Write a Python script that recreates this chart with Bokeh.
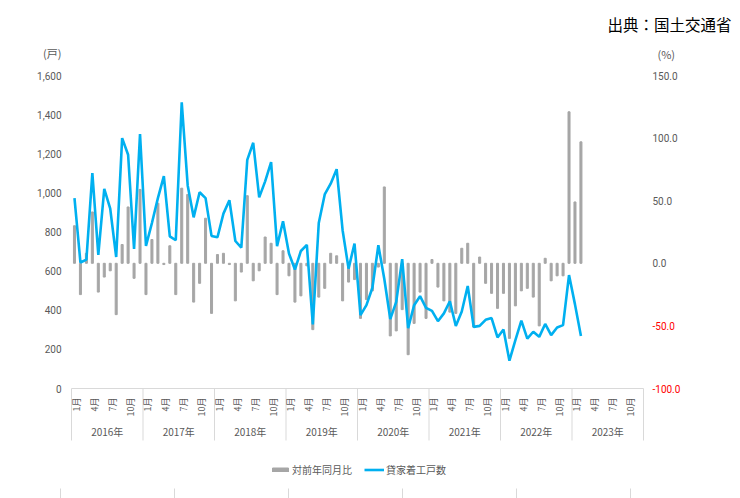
import math

from bokeh.plotting import figure
from bokeh.core.properties import value
from bokeh.models import Range1d, Label, Legend, LegendItem
from bokeh.embed import file_html
from bokeh.resources import INLINE

# data: Jan 2016 - Feb 2023, monthly
years = ["2016年", "2017年", "2018年", "2019年", "2020年", "2021年", "2022年", "2023年"]
month_labels = ["1月", "4月", "7月", "10月"]

# 貸家着工戸数 (戸)
units = [973, 644, 659, 1101, 683, 1021, 919, 672, 1280, 1195, 713, 1300,
         729, 846, 973, 1086, 778, 758, 1463, 1038, 875, 1003, 973, 780,
         773, 894, 962, 754, 720, 1169, 1256, 977, 1059, 1157, 727, 855,
         690, 608, 703, 734, 328, 846, 992, 1047, 1121, 809, 613, 741,
         375, 426, 515, 732, 560, 355, 443, 661, 308, 426, 472, 412,
         397, 344, 384, 446, 320, 394, 524, 315, 320, 351, 360, 261,
         302, 142, 247, 347, 255, 290, 264, 330, 273, 312, 324, 580,
         430, 268]

# 対前年同月比 (%)
yoy = [30, -25, 8, 41, -23, -11, -6, -41, 15, 45, -12, 59,
       -25, 19, 48, -1, 14, -25, 60, 55, -31, -16, 36, -40,
       7, 8, -1, -30, -7, 54, -14, -6, 21, 16, -25, 10,
       -10, -31, -26, -2, -53, -27, -20, 8, 6, -30, -15, -13,
       -44, -29, -22, -3, 61, -58, -54, -37, -73, -48, -23, -44,
       3, -19, -30, -39, -40, 12, 16, -51, 5, -16, -24, -36,
       -24, -60, -34, -22, -20, -27, -50, 4, -14, -10, -10, 121,
       49, 97]

left_ticks = [0, 200, 400, 600, 800, 1000, 1200, 1400, 1600]
right_ticks = [-100, -50, 0, 50, 100, 150]

GRAY_TXT = "#595959"
FONT = "Noto Sans CJK JP"
NUM_FONT = "Roboto"

# layout of the chart area in page pixels
W, H = 740, 498
X0, X1 = 71, 643      # left/right edge of the month band
YT, YB = 75, 388      # top (1600 / 150%) and bottom (0 / -100%) of the value area

n_months = 12 * len(years)
ppm = (X1 - X0) / n_months
upl = 1600 / (YB - YT)
upr = 250 / (YB - YT)


def px_x(px):
    return -0.5 + (px - X0) / ppm


def px_y(py):
    return (YB - py) * upl


p = figure(width=W, height=H, output_backend="svg", toolbar_location=None,
           x_range=Range1d(px_x(0), px_x(W)),
           y_range=Range1d(px_y(H), px_y(0)),
           x_axis_location=None, y_axis_location=None, min_border=0)
p.outline_line_color = None
p.xgrid.visible = False
p.ygrid.visible = False
p.extra_y_ranges = {"pct": Range1d(-100 - (H - YB) * upr, 150 + YT * upr)}

x = list(range(len(units)))

# category band: base line and year separators
p.segment(x0=[-0.5], y0=[0], x1=[n_months - 0.5], y1=[0], line_color="#d9d9d9", line_width=1)
seps = [12 * i - 0.5 for i in range(len(years) + 1)]
p.segment(x0=seps, y0=[0] * len(seps), x1=seps, y1=[px_y(440)] * len(seps),
          line_color="#d9d9d9", line_width=1)

# cut-off table rules at the bottom edge
rules = [px_x(v) for v in (60, 174, 288, 402, 516, 630)]
p.segment(x0=rules, y0=[px_y(488)] * len(rules), x1=rules, y1=[px_y(H)] * len(rules),
          line_color="#d9d9d9", line_width=1)

bars = p.vbar(x=x, top=yoy, bottom=0, width=0.34, color="#a6a6a6", y_range_name="pct")
line = p.line(x, units, color="#00b0f0", line_width=2.6)

# left tick labels (戸)
p.text(x=[px_x(61)] * len(left_ticks), y=left_ticks, text=[f"{t:,}" for t in left_ticks],
       text_font=value(NUM_FONT), text_font_size="10px", text_color=GRAY_TXT,
       text_align="right", text_baseline="middle")

# right tick labels (%), negatives in red
p.text(x=[px_x(652)] * len(right_ticks), y=right_ticks, text=[f"{t:.1f}" for t in right_ticks],
       text_font=value(NUM_FONT), text_font_size="10px",
       text_color=["#ff0000" if t < 0 else GRAY_TXT for t in right_ticks],
       text_align="left", text_baseline="middle", y_range_name="pct")

# month labels (rotated) and year labels
month_ticks = [m for m in range(n_months) if m % 3 == 0]
p.text(x=month_ticks, y=[px_y(397)] * len(month_ticks),
       text=[month_labels[(m % 12) // 3] for m in month_ticks], angle=math.pi / 2,
       x_offset=2, text_font=value(FONT), text_font_size="9px", text_color=GRAY_TXT,
       text_align="right", text_baseline="middle")
p.text(x=[12 * i + 5.5 for i in range(len(years))], y=[px_y(431)] * len(years), text=years,
       text_font=value(FONT), text_font_size="10px", text_color=GRAY_TXT,
       text_align="center", text_baseline="middle")

# legend
legend = Legend(items=[LegendItem(label="対前年同月比", renderers=[bars]),
                       LegendItem(label="貸家着工戸数", renderers=[line])],
                orientation="horizontal", location=(270, H - 477))
legend.glyph_width = 20
legend.glyph_height = 5
legend.label_standoff = 2
legend.spacing = 12
legend.margin = 0
legend.padding = 5
legend.border_line_color = None
legend.background_fill_alpha = 0
legend.label_text_font = FONT
legend.label_text_font_size = "10px"
legend.label_text_color = GRAY_TXT
p.add_layout(legend)

# unit labels and source (screen units from the bottom-left of the canvas)
p.add_layout(Label(x=61, y=H - 52, x_units="screen", y_units="screen", text="(戸)",
                   text_font=FONT, text_font_size="11px", text_color=GRAY_TXT,
                   text_align="right", text_baseline="middle"))
p.add_layout(Label(x=657, y=H - 53, x_units="screen", y_units="screen", text="(%)",
                   text_font=FONT, text_font_size="11px", text_color=GRAY_TXT,
                   text_align="left", text_baseline="middle"))
p.add_layout(Label(x=731, y=H - 23, x_units="screen", y_units="screen",
                   text="出典：国土交通省", text_font=FONT, text_font_size="15.5px",
                   text_color="#000000", text_align="right", text_baseline="middle"))

open("out.html", "w").write(file_html(p, INLINE))
